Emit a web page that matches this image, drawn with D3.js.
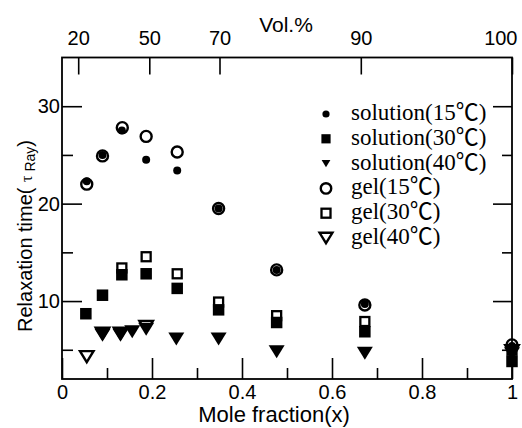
<!DOCTYPE html>
<html>
<head>
<meta charset="utf-8">
<script src="https://cdn.jsdelivr.net/npm/d3@7"></script>
<style>
  html, body { margin: 0; padding: 0; background: #fff; }
  svg { display: block; }
</style>
</head>
<body>
<svg id="chart" width="522" height="428"></svg>
<script>
// Relaxation time vs. mole fraction, solution and gel at three temperatures

// ---- data ----
const sol15X = [0.055, 0.090, 0.133, 0.187, 0.256, 0.348, 0.477, 0.673, 1.0];
const sol15Y = [22.3, 25.0, 27.5, 24.5, 23.4, 19.5, 13.2, 9.7, 5.4];

const sol30X = [0.053, 0.090, 0.133, 0.187, 0.256, 0.348, 0.477, 0.673, 1.0];
const sol30Y = [8.7, 10.6, 12.7, 12.8, 11.3, 9.1, 7.8, 6.85, 3.8];

const sol40X = [0.090, 0.130, 0.156, 0.187, 0.254, 0.348, 0.477, 0.673, 1.0];
const sol40Y = [6.5, 6.5, 6.85, 7.1, 6.1, 6.1, 4.8, 4.64, 4.6];

const gel15X = [0.055, 0.090, 0.134, 0.187, 0.256, 0.348, 0.477, 0.673, 1.0];
const gel15Y = [22.0, 24.9, 27.8, 26.9, 25.3, 19.5, 13.2, 9.6, 5.5];

const gel30X = [0.133, 0.187, 0.256, 0.348, 0.477, 0.673, 1.0];
const gel30Y = [13.4, 14.55, 12.8, 9.9, 8.5, 7.9, 4.95];

const gel40X = [0.055, 0.090, 0.130, 0.187, 1.0];
const gel40Y = [4.3, 6.7, 6.7, 7.4, 4.9];

const xMajor = [0, 0.2, 0.4, 0.6, 0.8, 1];
const xMinor = [0.1, 0.3, 0.5, 0.7, 0.9];
const yMajor = [10, 20, 30];
const yMinor = [5, 15, 25];
const volLabels = ["20", "50", "70", "90", "100"];
const volAtX = [0.036, 0.194, 0.350, 0.664, 1.0];

const legendNames = ["solution(15℃)", "solution(30℃)", "solution(40℃)",
                     "gel(15℃)", "gel(30℃)", "gel(40℃)"];

// ---- layout ----
const svg = d3.select("#chart");
const L = 62, R = 512, T = 57.5, B = 379;
const x = d3.scaleLinear().domain([0, 1]).range([L, R]);
const y = d3.scaleLinear().domain([2, 35]).range([B, T]);

const sans = "'Liberation Sans', Arial, sans-serif";
const serif = "'Liberation Serif', 'Times New Roman', 'Noto Sans CJK JP', serif";

function styleAxis(g) {
  g.select(".domain").remove();
  g.selectAll(".tick line").attr("stroke", "#000").attr("stroke-width", 1.6);
  g.selectAll(".tick text").attr("fill", "#000")
    .style("font-family", sans).style("font-size", "20px");
}

// bottom axis (ticks pointing inward)
svg.append("g").attr("transform", `translate(0,${B})`)
  .call(d3.axisBottom(x).tickValues(xMajor).tickSize(-21).tickPadding(5.3)
        .tickFormat(d => d3.format("~g")(d)))
  .call(styleAxis);
svg.append("g").attr("transform", `translate(0,${B})`)
  .call(d3.axisBottom(x).tickValues(xMinor).tickSize(-11).tickFormat(""))
  .call(styleAxis);

// left axis
svg.append("g").attr("transform", `translate(${L},0)`)
  .call(d3.axisLeft(y).tickValues(yMajor).tickSize(-20).tickPadding(2))
  .call(styleAxis);
svg.append("g").attr("transform", `translate(${L},0)`)
  .call(d3.axisLeft(y).tickValues(yMinor).tickSize(-11).tickFormat(""))
  .call(styleAxis);

// right axis (ticks only)
svg.append("g").attr("transform", `translate(${R},0)`)
  .call(d3.axisRight(y).tickValues(yMajor).tickSize(-19).tickFormat(""))
  .call(styleAxis);
svg.append("g").attr("transform", `translate(${R},0)`)
  .call(d3.axisRight(y).tickValues(yMinor).tickSize(-10).tickFormat(""))
  .call(styleAxis);

// top axis: volume percent
const gTop = svg.append("g").attr("transform", `translate(0,${T})`)
  .call(d3.axisTop(x).tickValues(volAtX).tickSize(-17).tickPadding(12.5)
        .tickFormat((d, i) => volLabels[i]))
  .call(styleAxis);
gTop.selectAll(".tick").filter((d, i) => i === volLabels.length - 1)
  .select("text").attr("text-anchor", "end").attr("x", 5);

// frame
svg.append("rect").attr("x", L).attr("y", T).attr("width", R - L).attr("height", B - T)
  .attr("fill", "none").attr("stroke", "#000").attr("stroke-width", 1.8);

// axis titles
svg.append("text").attr("x", 286).attr("y", 31.5).attr("text-anchor", "middle")
  .style("font-family", sans).style("font-size", "21px").text("Vol.%");
svg.append("text").attr("x", 274).attr("y", 422).attr("text-anchor", "middle")
  .style("font-family", sans).style("font-size", "22px").text("Mole fraction(x)");

const yt = svg.append("text").attr("transform", "translate(32,332) rotate(-90)")
  .attr("text-anchor", "start").style("white-space", "pre")
  .style("font-family", sans).style("font-size", "20px");
yt.append("tspan").text("Relaxation time( ");
yt.append("tspan").style("font-family", serif).style("font-size", "16px").text("τ");
yt.append("tspan").style("font-size", "14px").attr("dy", 3).text(" Ray");
yt.append("tspan").attr("dy", -3).text(")");

// ---- marker shapes ----
function triDown(w, h) {
  return `M${-w / 2},${-h / 2}L${w / 2},${-h / 2}L0,${h / 2}Z`;
}
function drawMarker(g, kind, s) {
  if (kind === "dot") {
    g.append("circle").attr("r", 4 * s).attr("fill", "#000");
  } else if (kind === "ring") {
    g.append("circle").attr("r", 5.5 * s).attr("fill", "none")
      .attr("stroke", "#000").attr("stroke-width", 2.4);
  } else if (kind === "sq") {
    const a = 11.5 * s;
    g.append("rect").attr("x", -a / 2).attr("y", -a / 2).attr("width", a).attr("height", a)
      .attr("fill", "#000");
  } else if (kind === "osq") {
    const a = 9 * s;
    g.append("rect").attr("x", -a / 2).attr("y", -a / 2).attr("width", a).attr("height", a)
      .attr("fill", "none").attr("stroke", "#000").attr("stroke-width", 2.3);
  } else if (kind === "tri") {
    g.append("path").attr("d", triDown(16 * s, 13 * s)).attr("fill", "#000");
  } else if (kind === "otri") {
    g.append("path").attr("d", triDown(13.5 * s, 11 * s)).attr("fill", "none")
      .attr("stroke", "#000").attr("stroke-width", 2.4).attr("stroke-linejoin", "miter");
  }
}

const series = [
  { xs: gel15X, ys: gel15Y, kind: "ring" },
  { xs: gel30X, ys: gel30Y, kind: "osq" },
  { xs: gel40X, ys: gel40Y, kind: "otri" },
  { xs: sol15X, ys: sol15Y, kind: "dot" },
  { xs: sol30X, ys: sol30Y, kind: "sq" },
  { xs: sol40X, ys: sol40Y, kind: "tri" }
];

series.forEach(s => {
  const pts = s.xs.map((v, i) => [v, s.ys[i]]);
  svg.append("g").selectAll("g").data(pts).join("g")
    .attr("transform", d => `translate(${x(d[0])},${y(d[1])})`)
    .each(function () { drawMarker(d3.select(this), s.kind, 1); });
});

// ---- legend ----
const legendKinds = ["dot", "sq", "tri", "ring", "osq", "otri"];
const legendScale = [0.9, 0.8, 0.55, 0.95, 1.0, 0.95];
const lg = svg.append("g");
legendNames.forEach((name, i) => {
  const cy = 114 + i * 24.8;
  const m = lg.append("g").attr("transform", `translate(326,${cy})`);
  drawMarker(m, legendKinds[i], legendScale[i]);
  lg.append("text").attr("x", 351).attr("y", cy + 6)
    .style("font-family", serif).style("font-size", "23px").text(name);
});
</script>
</body>
</html>
